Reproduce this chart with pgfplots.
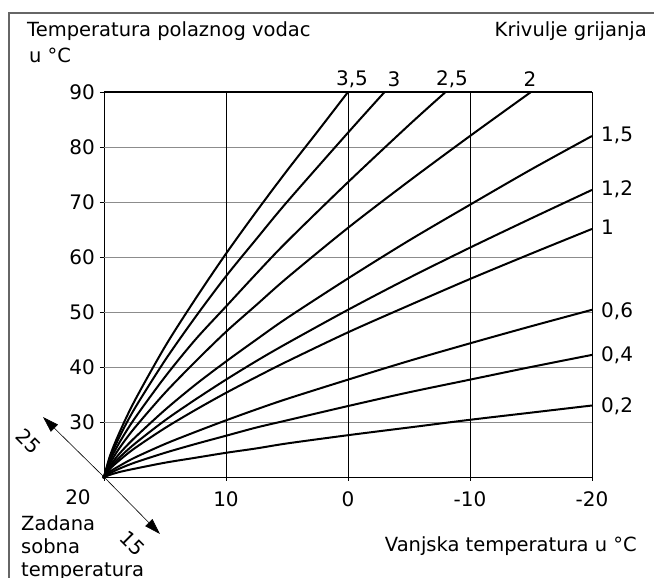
\documentclass[border=0pt]{standalone}
\usepackage{fontspec}
\setmainfont{DejaVu Sans}
\usepackage{pgfplots}
\pgfplotsset{compat=1.18}
\usetikzlibrary{arrows.meta}
\newcommand{\F}{\fontsize{19.5}{23}\selectfont}
\newcommand{\N}{\fontsize{20}{23}\selectfont}
\begin{document}
\begin{tikzpicture}[x=1pt,y=1pt]
\useasboundingbox (0,0) rectangle (654,578);
\draw[black!60, line width=1.2pt] (9,0) -- (9,565) -- (654,565);
\begin{axis}[at={(104pt,101pt)}, anchor=south west, scale only axis,
  width=488pt, height=385pt,
  x dir=reverse, xmin=-20, xmax=20, ymin=20, ymax=90,
  xtick={-20,-10,0,10,20}, xticklabels={-20,-10,0,10,{}},
  ytick={30,40,50,60,70,80,90}, yticklabels={30,40,50,60,70,80,90},
  tick align=outside, major tick length=4pt,
  xtick pos=left, ytick pos=left,
  tick style={black, line width=0.7pt},
  axis line style={black, line width=0.7pt},
  ticklabel style={font=\N, inner sep=0pt},
  xticklabel style={anchor=center, yshift=-18pt},
  yticklabel style={anchor=east, xshift=-5pt},
  clip=false,
]
\foreach \yy in {30,40,50,60,70,80}{
  \edef\tmp{\noexpand\draw[black!45, line width=0.9pt] (axis cs:20,\yy) -- (axis cs:-20,\yy);}\tmp
}
\foreach \xx in {10,0,-10}{
  \edef\tmp{\noexpand\draw[black, line width=0.7pt] (axis cs:\xx,20) -- (axis cs:\xx,90);}\tmp
}
\draw[black, line width=1.5pt] (axis cs:20,90) -- (axis cs:-20,90);
% 0.2
\addplot[black, line width=2pt, smooth] coordinates {(20,20) (19.5,20.4) (18.75,20.9) (17.5,21.5) (15,22.6) (12.5,23.5) (10,24.4) (7.5,25.2) (5,26.1) (0,27.6) (-5,29.0) (-10,30.4) (-15,31.7) (-20,33.0)};
% 0.4
\addplot[black, line width=2pt, smooth] coordinates {(20,20) (19.5,20.7) (18.75,21.5) (17.5,22.6) (15,24.4) (12.5,26.0) (10,27.5) (7.5,29.0) (5,30.3) (0,32.9) (-5,35.4) (-10,37.7) (-15,40.0) (-20,42.2)};
% 0.6
\addplot[black, line width=2pt, smooth] coordinates {(20,20) (19.5,21.0) (18.75,22.0) (17.5,23.5) (15,26.0) (12.5,28.2) (10,30.3) (7.5,32.3) (5,34.2) (0,37.7) (-5,41.1) (-10,44.3) (-15,47.4) (-20,50.4)};
% 1
\addplot[black, line width=2pt, smooth] coordinates {(20,20) (19.5,21.5) (18.75,23.0) (17.5,25.2) (15,28.9) (12.5,32.2) (10,35.3) (7.5,38.2) (5,41.0) (0,46.3) (-5,51.2) (-10,56.0) (-15,60.6) (-20,65.1)};
% 1.2
\addplot[black, line width=2pt, smooth] coordinates {(20,20) (19.5,21.7) (18.75,23.5) (17.5,26.0) (15,30.3) (12.5,34.1) (10,37.7) (7.5,41.1) (5,44.3) (0,50.4) (-5,56.2) (-10,61.7) (-15,67.0) (-20,72.2)};
% 1.5
\addplot[black, line width=2pt, smooth] coordinates {(20,20) (19.5,22.0) (18.75,24.2) (17.5,27.1) (15,32.2) (12.5,36.8) (10,41.0) (7.5,45.0) (5,48.9) (0,56.1) (-5,63.0) (-10,69.5) (-15,75.9) (-20,82.0)};
% 2
\addplot[black, line width=2pt, smooth] coordinates {(20,20) (19.5,22.5) (18.75,25.2) (17.5,28.9) (15,35.3) (12.5,41.0) (10,46.4) (7.5,51.3) (5,56.2) (0,65.3) (-5,73.8) (-10,82.0) (-15,90.0)};
% 2.5
\addplot[black, line width=2pt, smooth] coordinates {(20,20) (19.5,23.0) (18.75,26.2) (17.5,30.6) (15,38.2) (12.5,45.0) (10,51.0) (7.5,57.0) (5,62.8) (0,73.6) (-5,84.0) (-8,90.0)};
% 3
\addplot[black, line width=2pt, smooth] coordinates {(20,20) (19.5,23.5) (18.75,27.2) (17.5,32.4) (15,41.2) (12.5,49.1) (10,56.5) (7.5,63.3) (5,70.0) (0,82.6) (-3,90.0)};
% 3.5
\addplot[black, line width=2pt, smooth] coordinates {(20,20) (19.5,23.9) (18.75,28.0) (17.5,33.8) (15,43.7) (12.5,52.4) (10,60.6) (7.5,68.3) (5,75.7) (2.5,82.8) (0,90.0)};
\end{axis}
% arrows at the origin
\draw[black, line width=0.6pt, -{Triangle[length=16pt,width=10pt]}] (104,101) -- (43,161);
\draw[black, line width=0.6pt, -{Triangle[length=16pt,width=10pt]}] (104,101) -- (160,44);
\fill[black] (104,101) circle (2pt);
\node[font=\N, inner sep=0pt, rotate=-45] at (29,137) {25};
\node[font=\N, inner sep=0pt, rotate=-45] at (133,35) {15};
\node[font=\N, inner sep=0pt] at (78,81) {20};
% titles
\node[font=\F, inner sep=0pt, anchor=base west] at (27,541) {Temperatura polaznog vodac};
\node[font=\F, inner sep=0pt, anchor=base west] at (29,515) {u °C};
\node[font=\F, inner sep=0pt, anchor=base east] at (647,541) {Krivulje grijanja};
\node[font=\F, inner sep=0pt, anchor=base east] at (637,26) {Vanjska temperatura u °C};
\node[font=\F, inner sep=0pt, anchor=base west] at (21,47.5) {Zadana};
\node[font=\F, inner sep=0pt, anchor=base west] at (21,24.5) {sobna};
\node[font=\F, inner sep=0pt, anchor=base west] at (21,1.5) {temperatura};
% curve labels on top
\node[font=\N, inner sep=0pt] at (352,499) {3,5};
\node[font=\N, inner sep=0pt] at (394,499) {3};
\node[font=\N, inner sep=0pt] at (452,499) {2,5};
\node[font=\N, inner sep=0pt] at (530,499) {2};
% curve labels on the right
\node[font=\N, inner sep=0pt, anchor=west] at (601,443) {1,5};
\node[font=\N, inner sep=0pt, anchor=west] at (601,389) {1,2};
\node[font=\N, inner sep=0pt, anchor=west] at (601,351) {1};
\node[font=\N, inner sep=0pt, anchor=west] at (601,267) {0,6};
\node[font=\N, inner sep=0pt, anchor=west] at (601,223) {0,4};
\node[font=\N, inner sep=0pt, anchor=west] at (601,172) {0,2};
\end{tikzpicture}
\end{document}
